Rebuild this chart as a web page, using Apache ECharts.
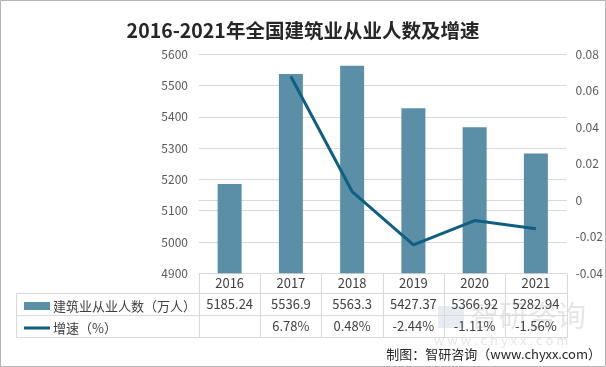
<!DOCTYPE html>
<html>
<head>
<meta charset="utf-8">
<script src="https://cdn.jsdelivr.net/npm/echarts@6/dist/echarts.min.js"></script>
<style>
html,body{margin:0;padding:0;background:#fff;}
#c{width:606px;height:367px;}
</style>
</head>
<body>
<div id="c"></div>
<script>
var years = ['2016', '2017', '2018', '2019', '2020', '2021'];
var workers = [5185.24, 5536.9, 5563.3, 5427.37, 5366.92, 5282.94];
var growth = [null, 0.0678, 0.0048, -0.0244, -0.0111, -0.0156];
var leftTicks = { min: 4900, max: 5600, interval: 100 };
var rightTicks = { min: -0.04, max: 0.08, interval: 0.02 };
var seriesNames = ['建筑业从业人数（万人）', '增速（%）'];

var FONT = '"Noto Sans CJK SC", "Noto Sans", sans-serif';
var chart = echarts.init(document.getElementById('c'), null, { renderer: 'canvas' });

var G = { left: 199, right: 38, top: 54.3, bottom: 93.7 };
var ROW0 = 20, ROW = 22;

function fmtPct(v) { return v == null ? ' ' : (v * 100).toFixed(2) + '%'; }

var option = {
  animation: false,
  backgroundColor: '#fff',
  title: {
    text: '2016-2021年全国建筑业从业人数及增速',
    left: 'center',
    top: 16,
    textStyle: { fontFamily: FONT, fontSize: 19.5, fontWeight: 'bold', color: '#262626' }
  },
  legend: {
    orient: 'vertical',
    left: 19,
    top: 294,
    itemWidth: 26,
    itemHeight: 8,
    itemGap: 8,
    selectedMode: false,
    textStyle: { fontFamily: FONT, fontSize: 13, color: '#404040', lineHeight: 14, padding: [0, 0, 0, -2] },
    data: [
      { name: seriesNames[0], icon: 'rect' },
      { name: seriesNames[1], icon: 'path://M0,0L0,0M0,2.5L26,2.5L26,5.5L0,5.5ZM26,8L26,8' }
    ]
  },
  grid: { left: G.left, right: G.right, top: G.top, bottom: G.bottom, containLabel: false },
  xAxis: {
    type: 'category',
    data: years,
    boundaryGap: true,
    axisLine: { show: true, lineStyle: { color: '#d9d9d9', width: 1 } },
    axisTick: { show: false },
    splitLine: { show: false },
    axisLabel: {
      interval: 0,
      margin: 0,
      fontFamily: FONT,
      formatter: function (val, idx) {
        return '{y|' + val + '}\n{v|' + workers[idx] + '}\n{v|' + fmtPct(growth[idx]) + '}';
      },
      rich: {
        y: { fontFamily: FONT, fontSize: 13, color: '#404040', lineHeight: ROW0, height: ROW0 },
        v: { fontFamily: FONT, fontSize: 13, color: '#404040', lineHeight: ROW, height: ROW }
      }
    }
  },
  yAxis: [
    {
      type: 'value',
      min: leftTicks.min, max: leftTicks.max, interval: leftTicks.interval,
      axisLine: { show: false },
      axisTick: { show: false },
      splitLine: { show: true, lineStyle: { color: '#d9d9d9', width: 1 } },
      axisLabel: { fontFamily: FONT, fontSize: 12, color: '#595959', margin: 11,
        formatter: function (v) { return String(v); } }
    },
    {
      type: 'value',
      min: rightTicks.min, max: rightTicks.max, interval: rightTicks.interval,
      axisLine: { show: false },
      axisTick: { show: false },
      splitLine: { show: false },
      axisLabel: {
        fontFamily: FONT, fontSize: 12, color: '#595959', margin: 9,
        formatter: function (v) { return String(+v.toFixed(2)); }
      }
    }
  ],
  series: [
    {
      name: seriesNames[0],
      type: 'bar',
      yAxisIndex: 0,
      barWidth: 24,
      itemStyle: { color: '#5b8fa7' },
      data: workers,
      z: 2
    },
    {
      name: seriesNames[1],
      type: 'line',
      yAxisIndex: 1,
      symbol: 'none',
      connectNulls: false,
      lineStyle: { color: '#0e5f82', width: 3 },
      itemStyle: { color: '#0e5f82' },
      data: growth,
      z: 3
    }
  ]
};

chart.setOption(option);

function drawTable() {
  var W = chart.getWidth(), H = chart.getHeight();
  var axisY = H - G.bottom;
  var gridRight = W - G.right;
  var tableLeft = 16.5;
  var lc = '#d9d9d9';
  var els = [];
  var rowYs = [ROW0, ROW0 + ROW, ROW0 + 2 * ROW].map(function (d) { return Math.round(axisY + d) + 0.5; });
  rowYs.forEach(function (y) {
    els.push({ type: 'line', shape: { x1: tableLeft, y1: y, x2: gridRight, y2: y }, style: { stroke: lc, lineWidth: 1 }, silent: true });
  });
  els.push({ type: 'line', shape: { x1: tableLeft, y1: rowYs[0], x2: tableLeft, y2: rowYs[2] }, style: { stroke: lc, lineWidth: 1 }, silent: true });
  // vertical column dividers at category boundaries
  var bottomY = rowYs[2];
  var topY = Math.round(axisY) + 0.5;
  for (var i = 0; i <= years.length; i++) {
    var xa = chart.convertToPixel({ xAxisIndex: 0 }, years[Math.min(i, years.length - 1)]);
    var step = (gridRight - G.left) / years.length;
    var x = Math.round(i < years.length ? xa - step / 2 : xa + step / 2) + 0.5;
    els.push({ type: 'line', shape: { x1: x, y1: topY, x2: x, y2: bottomY }, style: { stroke: lc, lineWidth: 1 }, silent: true });
  }
  // watermark
  els.push({ type: 'rect', z: -10, shape: { x: 438, y: 306, width: 26, height: 22 }, style: { fill: 'rgba(200,212,226,0.45)' }, silent: true });
  els.push({ type: 'text', z: -10, x: 470, y: 316, style: { text: '智研咨询', font: '29px ' + FONT, fill: 'rgba(200,200,200,0.45)', textVerticalAlign: 'middle' }, silent: true });
  els.push({ type: 'text', z: -10, x: 434, y: 340, style: { text: 'w w w . c h y x x . c o m', font: '13px ' + FONT, fill: 'rgba(200,200,200,0.45)', textVerticalAlign: 'middle' }, silent: true });
  // source
  els.push({ type: 'text', x: 601, y: 354, style: { text: '制图：智研咨询（www.chyxx.com）', font: '13px ' + FONT, fill: '#262626', textAlign: 'right', textVerticalAlign: 'middle' }, silent: true });
  // border
  els.push({ type: 'rect', shape: { x: 0.5, y: 0.5, width: W - 1, height: H - 1 }, style: { fill: 'none', stroke: '#b4b4b4', lineWidth: 1 }, silent: true });
  chart.setOption({ graphic: { elements: els } });
}
drawTable();
</script>
</body>
</html>
